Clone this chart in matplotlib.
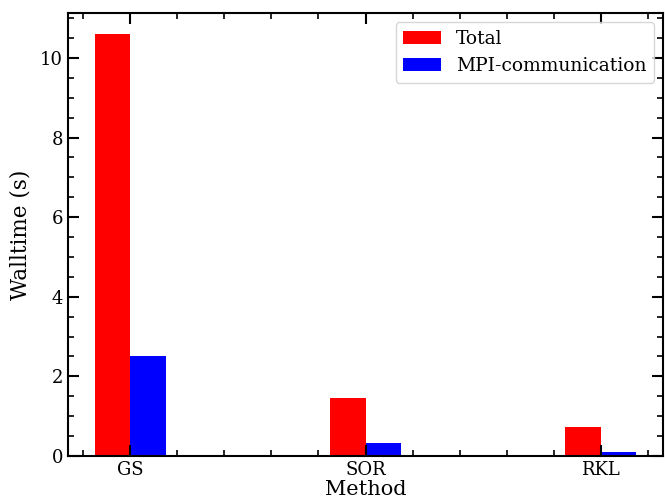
import matplotlib
matplotlib.use("Agg")
import matplotlib.pyplot as plt
import numpy as np
from matplotlib.ticker import MultipleLocator

methods = ["GS", "SOR", "RKL"]
total = [10.6, 1.45, 0.72]
mpi = [2.5, 0.33, 0.10]

plt.rcParams['font.family'] = 'DejaVu Serif'
plt.rcParams['font.size'] = 13

fig = plt.figure(figsize=(6.65, 5.01), dpi=100)
ax = fig.add_axes([68/665, 1-456/501, (663-68)/665, (456-13)/501])
x = np.arange(len(methods))
w = 0.15
ax.bar(x - w/2, total, w, color='red', label='Total')
ax.bar(x + w/2, mpi, w, color='blue', label='MPI-communication')
ax.set_xticks(x)
ax.set_xticklabels(methods)
ax.xaxis.set_minor_locator(MultipleLocator(0.2))
ax.yaxis.set_major_locator(MultipleLocator(2))
ax.yaxis.set_minor_locator(MultipleLocator(0.5))
ax.tick_params(which='both', direction='in', top=True, right=True)
ax.tick_params(which='major', length=8, width=1.5, labelsize=13)
ax.tick_params(which='minor', length=4, width=1.2)
for s in ax.spines.values():
    s.set_linewidth(1.5)
ax.set_xlabel('Method', fontsize=15, labelpad=1)
ax.set_ylabel('Walltime (s)', fontsize=15.5, labelpad=6)
ax.legend(loc='upper right', fontsize=13.5)
fig.savefig('out.png', dpi=100)
